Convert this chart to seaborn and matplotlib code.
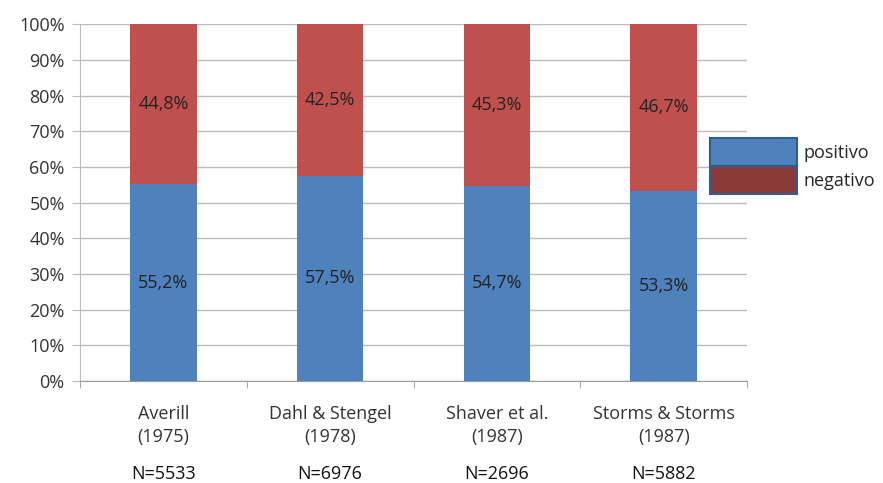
import seaborn as sns
import matplotlib.pyplot as plt
import matplotlib.patches as mpatches
import pandas as pd

studies = ['Averill\n(1975)', 'Dahl & Stengel\n(1978)', 'Shaver et al.\n(1987)', 'Storms & Storms\n(1987)']
n_labels = ['N=5533', 'N=6976', 'N=2696', 'N=5882']
positivo = [55.2, 57.5, 54.7, 53.3]
negativo = [44.8, 42.5, 45.3, 46.7]

df = pd.DataFrame({'study': studies, 'positivo': positivo, 'negativo': negativo})
df['total'] = df['positivo'] + df['negativo']

blue = '#4F81BD'
red = '#C0504D'
sns.set_style('white')
plt.rcParams['font.family'] = ['Open Sans', 'DejaVu Sans']

fig = plt.figure(figsize=(8.83, 4.83), dpi=100)
ax = fig.add_axes([0.0906, 0.211, 0.7554, 0.739])

sns.barplot(data=df, x='study', y='total', color=red, width=0.4, saturation=1,
            linewidth=0, ax=ax, zorder=2)
sns.barplot(data=df, x='study', y='positivo', color=blue, width=0.4, saturation=1,
            linewidth=0, ax=ax, zorder=3)

fs = 13
for i, row in df.iterrows():
    ax.text(i, row['positivo'] / 2, f"{row['positivo']:.1f}%".replace('.', ','),
            ha='center', va='center', fontsize=fs, color='#222222', zorder=4)
    ax.text(i, row['positivo'] + row['negativo'] / 2, f"{row['negativo']:.1f}%".replace('.', ','),
            ha='center', va='center', fontsize=fs, color='#222222', zorder=4)
    ax.text(i, -0.26, n_labels[i], transform=ax.get_xaxis_transform(),
            ha='center', va='center', fontsize=fs, color='#111111')

ax.set_xlim(-0.5, 3.5)
ax.set_ylim(0, 100)
ax.set_yticks(range(0, 101, 10))
ax.set_yticklabels([f'{v}%' for v in range(0, 101, 10)], fontsize=fs, color='#333333')
ax.set_xticks(range(4))
ax.set_xticklabels(studies, fontsize=fs, color='#333333', linespacing=1.35)
ax.set_xticks([-0.5, 0.5, 1.5, 2.5, 3.5], minor=True)
ax.tick_params(axis='x', which='major', length=0, pad=17)
ax.tick_params(axis='x', which='minor', length=5, color='#999999', direction='out', bottom=True)
ax.tick_params(axis='y', length=6, color='#BBBBBB', left=True, pad=5)
ax.set_xlabel('')
ax.set_ylabel('')
ax.yaxis.grid(True, color='#BBBBBB', linewidth=1, zorder=0)
ax.set_axisbelow(True)
for s in ['top', 'right']:
    ax.spines[s].set_visible(False)
ax.spines['left'].set_color('#BBBBBB')
ax.spines['bottom'].set_color('#999999')

handles = [mpatches.Patch(facecolor=blue, edgecolor='#2F5E8E', linewidth=1.5, label='positivo'),
           mpatches.Patch(facecolor='#8B3A3A', edgecolor='#2F5E8E', linewidth=1.5, label='negativo')]
fig.legend(handles=handles, loc='upper left', bbox_to_anchor=(0.796, 0.729), frameon=False,
           handlelength=4.8, handleheight=2.0, labelspacing=0, handletextpad=0.4,
           fontsize=fs, borderaxespad=0)

fig.savefig('out.png', dpi=100)
